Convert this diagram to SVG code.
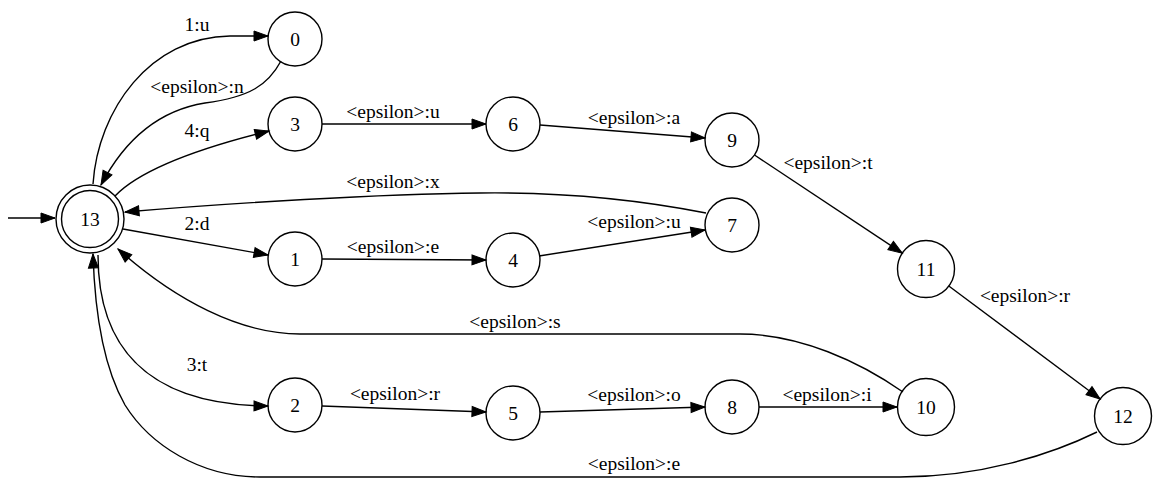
<svg xmlns="http://www.w3.org/2000/svg" width="1159" height="482" viewBox="0 0 1159 482">
<style>
.n circle{fill:none;stroke:#000;stroke-width:1.4}
text{font-family:"Liberation Serif","Times New Roman",serif;font-size:19.5px;fill:#000;text-anchor:middle}
.e path{fill:none;stroke:#000;stroke-width:1.4;marker-end:url(#ah)}
</style>
<defs>
<marker id="ah" markerUnits="userSpaceOnUse" markerWidth="15" markerHeight="11" refX="14" refY="5" orient="auto" overflow="visible">
<path d="M0,0 L14,5 L0,10 Z" fill="#000" stroke="#000" stroke-width="1"/>
</marker>
</defs>
<rect width="1159" height="482" fill="#fff"/>
<g class="e" id="edges">
<path d="M8,218 L55,218"/>
<path d="M93,184 C98,110 150,37 230,36 L268,36"/>
<text x="197" y="31">1:u</text>
<path d="M281,61 C268,85 250,97 205,103 C155,111 122,145 101,185"/>
<text x="197" y="93">&lt;epsilon&gt;:n</text>
<path d="M115,196 C140,170 200,148 269,131"/>
<text x="197" y="137">4:q</text>
<path d="M706,213 C640,200 560,192 480,193 C380,194 230,203 125,212"/>
<text x="393" y="188">&lt;epsilon&gt;:x</text>
<path d="M123,229 L268,255"/>
<text x="197" y="230">2:d</text>
<path d="M322,124 L486,124"/>
<text x="393" y="118">&lt;epsilon&gt;:u</text>
<path d="M540,125 L705,138"/>
<text x="634" y="124">&lt;epsilon&gt;:a</text>
<path d="M754.5,155 L902.3,253.2"/>
<text x="828" y="169">&lt;epsilon&gt;:t</text>
<path d="M948.8,286 L1100.2,399"/>
<text x="1025" y="302">&lt;epsilon&gt;:r</text>
<path d="M322,259 L486,260"/>
<text x="393" y="253">&lt;epsilon&gt;:e</text>
<path d="M539,256 L705,230"/>
<text x="634" y="228">&lt;epsilon&gt;:u</text>
<path d="M903,392 C860,362 800,334 740,334 L300,334 C240,334 175,300 118,249"/>
<text x="515" y="328">&lt;epsilon&gt;:s</text>
<path d="M98,255 C98,340 140,405 268,406"/>
<text x="197" y="371">3:t</text>
<path d="M322,406 L486,412"/>
<text x="395" y="400">&lt;epsilon&gt;:r</text>
<path d="M540,412 L705,407"/>
<text x="634" y="401">&lt;epsilon&gt;:o</text>
<path d="M759,407 L897,407"/>
<text x="827" y="401">&lt;epsilon&gt;:i</text>
<path d="M1097,432 C1050,455 980,477 900,477 L260,477 C200,477 150,445 125,405 C105,370 95,320 93,254"/>
<text x="634" y="470">&lt;epsilon&gt;:e</text>
</g>
<g class="n" id="n13"><circle cx="90" cy="219" r="28.5"/><circle cx="90" cy="219" r="34"/><text x="90" y="226">13</text></g>
<g class="n" id="n0"><circle cx="295" cy="39" r="27"/><text x="295" y="46">0</text></g>
<g class="n" id="n3"><circle cx="295" cy="124" r="27"/><text x="295" y="131">3</text></g>
<g class="n" id="n1"><circle cx="295" cy="259" r="27"/><text x="295" y="266">1</text></g>
<g class="n" id="n2"><circle cx="295" cy="405" r="27"/><text x="295" y="412">2</text></g>
<g class="n" id="n6"><circle cx="513" cy="124" r="27"/><text x="513" y="131">6</text></g>
<g class="n" id="n4"><circle cx="513" cy="260" r="27"/><text x="513" y="267">4</text></g>
<g class="n" id="n5"><circle cx="513" cy="413" r="27"/><text x="513" y="420">5</text></g>
<g class="n" id="n9"><circle cx="732" cy="140" r="27"/><text x="732" y="147">9</text></g>
<g class="n" id="n7"><circle cx="732" cy="225" r="27"/><text x="732" y="232">7</text></g>
<g class="n" id="n8"><circle cx="732" cy="407" r="27"/><text x="732" y="414">8</text></g>
<g class="n" id="n11"><circle cx="926" cy="269" r="28.5"/><text x="926" y="276">11</text></g>
<g class="n" id="n10"><circle cx="926" cy="407" r="28.5"/><text x="926" y="414">10</text></g>
<g class="n" id="n12"><circle cx="1123" cy="416" r="28.5"/><text x="1123" y="423">12</text></g>
</svg>
